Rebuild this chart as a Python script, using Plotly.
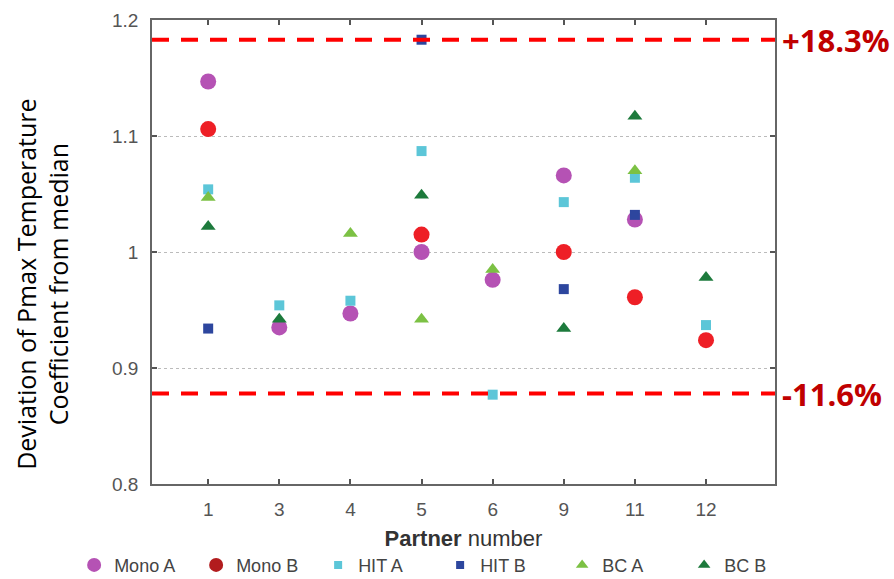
import plotly.graph_objects as go

# ---------------- data ----------------
partners = ["1", "3", "4", "5", "6", "9", "11", "12"]
mono_a = [1.147, 0.935, 0.947, 1.000, 0.976, 1.066, 1.028, None]
mono_b = [1.106, None, None, 1.015, None, 1.000, 0.961, 0.924]
hit_a = [1.054, 0.954, 0.958, 1.087, 0.877, 1.043, 1.064, 0.937]
hit_b = [0.934, None, None, 1.183, None, 0.968, 1.032, None]
bc_a = [1.047, None, 1.016, 0.942, 0.985, None, 1.070, None]
bc_b = [1.022, 0.942, None, 1.049, None, 0.934, 1.117, 0.978]

series_names = ["Mono A", "Mono B", "HIT A", "HIT B", "BC A", "BC B"]
series_values = [mono_a, mono_b, hit_a, hit_b, bc_a, bc_b]

y_ticks = [0.8, 0.9, 1.0, 1.1, 1.2]
y_tick_labels = ["0.8", "0.9", "1", "1.1", "1.2"]

upper_limit = 1.183
lower_limit = 0.878
upper_label = "+18.3%"
lower_label = "-11.6%"

# ---------------- styles ----------------
symbols = ["circle", "circle", "square", "square", "triangle-up", "triangle-up"]
sizes = [16, 16, 10, 10, 13, 13]
legend_sizes = [14, 14, 8, 8, 11, 11]
colors = ["#B552B4", "#EE1F26", "#5CC6D8", "#2D469E", "#7CC144", "#1D7A3C"]
legend_colors = ["#B552B4", "#B21C1E", "#5CC6D8", "#2D469E", "#7CC144", "#1D7A3C"]

fig = go.Figure()

for name, vals, sym, sz, col in zip(series_names, series_values, symbols, sizes, colors):
    fig.add_trace(go.Scatter(
        x=partners, y=vals, mode="markers", name=name, showlegend=False,
        marker=dict(symbol=sym, size=sz, color=col, line=dict(width=0)),
        cliponaxis=False,
    ))

for name, sym, sz, col in zip(series_names, symbols, legend_sizes, legend_colors):
    fig.add_trace(go.Scatter(
        x=[None], y=[None], mode="markers", name=name, showlegend=True,
        marker=dict(symbol=sym, size=sz, color=col, line=dict(width=0)),
    ))

# red limit lines
for yv in (upper_limit, lower_limit):
    fig.add_shape(type="line", xref="paper", x0=0, x1=1, yref="y", y0=yv, y1=yv,
                  line=dict(color="#FF0000", width=4, dash="17px,12px"), layer="above")

fig.add_annotation(xref="paper", x=1.008, xanchor="left", yref="y", y=upper_limit,
                   text="<b>%s</b>" % upper_label, showarrow=False,
                   font=dict(family="Open Sans", size=31, color="#C00000"))
fig.add_annotation(xref="paper", x=1.008, xanchor="left", yref="y", y=lower_limit,
                   text="<b>%s</b>" % lower_label, showarrow=False,
                   font=dict(family="Open Sans", size=31, color="#C00000"))

# y title
fig.add_annotation(xref="paper", x=-0.176, yref="paper", y=0.43,
                   xanchor="center", yanchor="middle", textangle=-90,
                   text="Deviation of Pmax Temperature<br>Coefficient from median",
                   showarrow=False,
                   font=dict(family="Open Sans", size=25, color="#000000"))

axis_common = dict(
    showline=True, linecolor="#666666", linewidth=1.5, mirror="ticks",
    ticks="inside", ticklen=5, tickwidth=1.5, tickcolor="#555555",
    zeroline=False,
)

fig.update_xaxes(
    type="category", categoryorder="array", categoryarray=partners,
    range=[-0.79, 7.97], showgrid=False,
    tickfont=dict(family="Liberation Sans", size=19, color="#555555"),
    ticklabelstandoff=7,
    title=dict(text="<b>Partner</b> number", standoff=12,
               font=dict(family="Liberation Sans", size=22, color="#333333")),
    **axis_common,
)
fig.update_yaxes(
    range=[0.8, 1.2], tickvals=y_ticks, ticktext=y_tick_labels,
    showgrid=True, gridcolor="#BBBBBB", gridwidth=1, griddash="dot",
    tickfont=dict(family="Liberation Sans", size=19, color="#555555"),
    ticklabelstandoff=8,
    **axis_common,
)

fig.update_layout(
    width=894, height=579,
    margin=dict(l=152, r=119, t=20, b=95, autoexpand=False),
    plot_bgcolor="white", paper_bgcolor="white",
    legend=dict(orientation="h", x=-0.125, xanchor="left", y=-0.175, yanchor="middle",
                entrywidth=77, entrywidthmode="pixels",
                font=dict(family="Liberation Sans", size=18, color="#444444"),
                bgcolor="rgba(0,0,0,0)"),
)

fig.write_html("out.html")
